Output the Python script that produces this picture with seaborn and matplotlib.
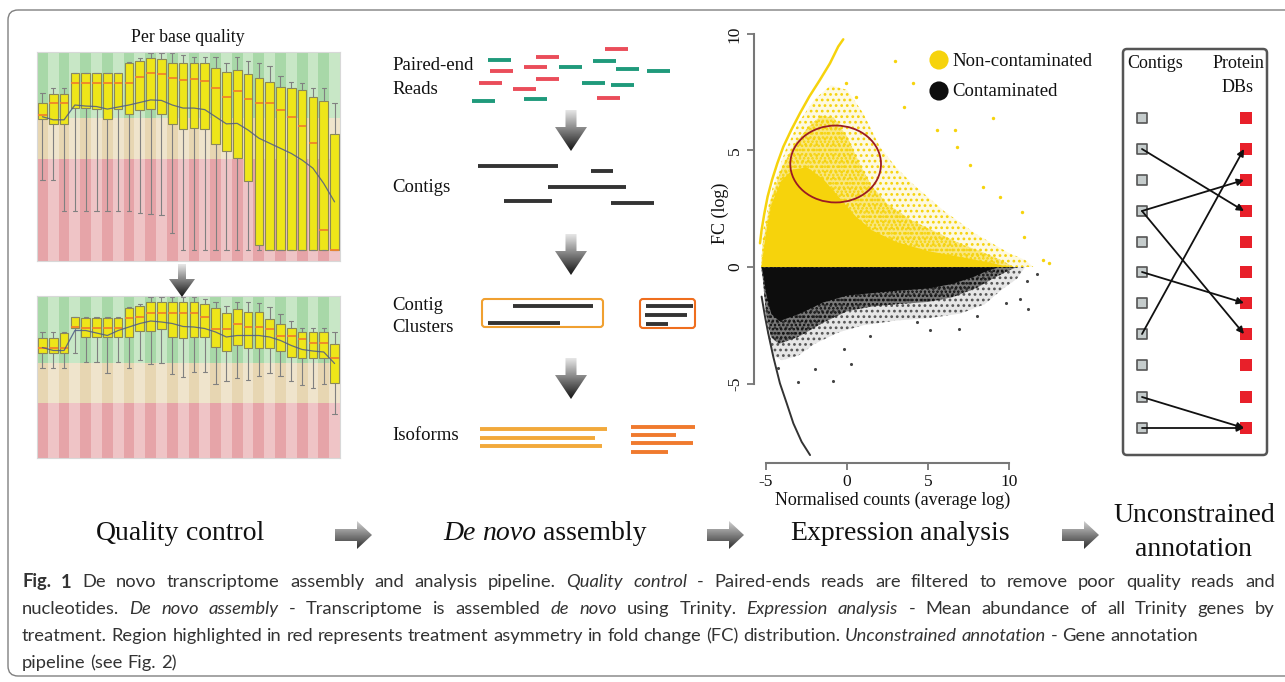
import numpy as np
import matplotlib
matplotlib.use("Agg")
import matplotlib.pyplot as plt
import seaborn as sns
from matplotlib.patches import Polygon, Rectangle, FancyBboxPatch, Ellipse
from matplotlib.colors import LinearSegmentedColormap, to_rgba

sns.set_style("white")
plt.rcParams["font.family"] = ["Liberation Serif", "DejaVu Serif"]
plt.rcParams["axes.unicode_minus"] = False
plt.rcParams["hatch.linewidth"] = 1.2

W, H = 1285, 682
SERIF = ["Liberation Serif", "DejaVu Serif"]
CAPFONT = ["Lato", "DejaVu Sans"]

# ---------------- per base quality (28 read positions) ----------------
q_pos = np.arange(1, 29)
top_whislo = [15.9, 15.9, 9.8, 9.8, 9.8, 9.8, 9.8, 9.8, 9.8, 9.4, 9.2, 9.0, 5.4, 2.1,
              2.1, 2.1, 2.1, 2.1, 2.1, 2.1, 2.1, 2.1, 2.1, 2.1, 2.1, 2.1, 2.1, 2.1]
top_q1 = [27.9, 26.9, 26.9, 30.0, 30.0, 29.8, 27.9, 29.8, 28.9, 29.7, 29.8, 28.9, 26.9, 25.8,
          26.0, 25.8, 23.0, 21.6, 20.3, 15.7, 3.1, 2.1, 2.1, 2.1, 2.1, 2.1, 2.1, 2.1]
top_med = [28.7, 31.0, 31.0, 34.9, 34.9, 34.9, 34.9, 34.9, 34.9, 36.1, 36.9, 36.7, 35.9, 35.6,
           35.7, 35.4, 33.9, 32.1, 33.3, 31.8, 31.0, 31.0, 29.7, 28.3, 26.4, 23.2, 6.0, 2.1]
top_q3 = [31.0, 32.8, 32.8, 36.9, 36.9, 36.9, 36.9, 36.9, 38.8, 39.2, 39.8, 39.6, 38.8, 38.8,
          38.8, 38.8, 37.9, 37.0, 37.5, 36.7, 35.9, 35.2, 34.2, 33.9, 33.5, 32.1, 31.3, 24.9]
top_whihi = [32.9, 33.9, 33.9, 36.9, 36.9, 36.9, 36.9, 36.9, 39.0, 39.8, 40.8, 40.8, 40.8, 40.5,
             40.0, 40.0, 40.0, 38.8, 40.0, 39.2, 38.8, 38.2, 36.3, 35.2, 34.9, 33.9, 33.9, 31.0]
top_mean = [28.3, 27.7, 27.7, 30.6, 30.4, 30.3, 29.8, 30.2, 30.6, 31.1, 31.6, 31.5, 30.6, 30.0,
            30.0, 29.7, 28.3, 26.9, 27.0, 25.7, 24.1, 23.1, 22.1, 21.1, 19.8, 18.2, 15.2, 11.6]

bot_whislo = [27.0, 27.0, 27.0, 30.1, 28.2, 28.2, 26.0, 28.2, 27.0, 28.7, 27.9, 28.0, 25.9, 25.2,
              26.3, 26.2, 23.9, 24.4, 25.1, 24.7, 25.5, 26.0, 25.5, 24.4, 23.7, 23.0, 23.9, 17.9]
bot_q1 = [30.1, 30.1, 30.1, 35.1, 33.2, 33.2, 33.2, 33.2, 33.2, 34.4, 34.4, 34.7, 33.2, 33.1,
          33.2, 33.2, 31.2, 30.5, 31.7, 31.1, 31.1, 31.1, 30.5, 29.3, 29.1, 29.1, 29.1, 24.1]
bot_med = [31.1, 31.1, 31.1, 35.3, 35.1, 35.1, 35.1, 35.1, 37.1, 37.3, 38.0, 38.0, 38.0, 38.0,
           38.0, 37.3, 34.9, 34.9, 35.7, 35.2, 35.2, 34.7, 33.5, 33.5, 32.9, 32.1, 32.1, 29.1]
bot_q3 = [33.0, 33.0, 34.1, 37.2, 37.1, 37.1, 37.1, 37.1, 39.1, 39.5, 40.2, 40.2, 40.2, 40.2,
          40.2, 39.9, 39.1, 38.0, 38.9, 38.2, 38.2, 36.9, 35.7, 35.1, 34.2, 34.2, 34.2, 31.9]
bot_whihi = [34.2, 34.2, 34.2, 37.2, 37.2, 37.2, 37.2, 37.2, 39.2, 39.7, 41.2, 41.2, 41.2, 41.2,
             41.2, 40.9, 40.2, 39.5, 40.2, 40.2, 40.0, 39.2, 37.9, 36.4, 35.1, 35.1, 35.1, 34.2]
bot_mean = [31.1, 30.5, 30.5, 34.5, 34.5, 34.0, 33.5, 34.5, 35.2, 35.9, 36.4, 36.2, 35.9, 35.3,
            35.2, 34.9, 34.2, 33.2, 33.5, 33.5, 33.5, 33.2, 32.5, 31.5, 30.7, 30.4, 30.2, 27.9]

# quality bands: (low, high, dark stripe, light stripe)
bands = [(0, 20, "#e6a4a8", "#efc4c6"),
         (20, 28, "#e7d6b2", "#efe4cc"),
         (28, 45, "#a8d8a8", "#c8e7c6")]

# ---------------- MA plot ----------------
yel_sparse_x = [-5.3, -5.2, -4.6, -3.8, -3.0, -2.0, -1.0, 0.0, 1.0, 2.0, 3.0, 4.0, 5.0, 6.0, 7.0, 8.0, 9.0, 10.0, 11.0, 11.5]
yel_sparse_y = [0.0, 1.5, 3.4, 5.0, 6.2, 7.2, 7.8, 7.6, 6.6, 5.2, 4.3, 3.6, 3.0, 2.4, 1.9, 1.4, 1.0, 0.6, 0.3, 0.0]
yel_mid_x = [-5.3, -5.2, -4.7, -4.0, -3.2, -2.4, -1.6, -0.8, 0.0, 0.8, 1.5, 2.5, 4.0, 5.5, 7.0, 8.5, 9.5, 10.3]
yel_mid_y = [0.0, 1.0, 2.9, 4.3, 5.3, 6.0, 6.5, 6.4, 5.6, 4.4, 3.5, 2.7, 2.0, 1.5, 1.0, 0.6, 0.3, 0.0]
yel_core_x = [-5.3, -5.2, -5.0, -4.7, -4.1, -3.4, -2.5, -1.5, -0.5, 0.5, 1.5, 3.0, 5.0, 7.0, 8.5, 9.5, 10.0]
yel_core_y = [0.0, 0.6, 1.6, 2.7, 3.7, 4.2, 4.3, 3.8, 3.0, 2.2, 1.6, 1.1, 0.7, 0.45, 0.25, 0.1, 0.0]

blk_sparse_x = [-5.2, -5.0, -4.6, -4.0, -3.0, -2.0, -0.5, 1.0, 3.0, 5.0, 7.0, 8.5, 9.5, 10.5, 11.0]
blk_sparse_y = [0.0, -2.5, -3.8, -4.0, -3.8, -3.3, -2.8, -2.5, -2.3, -2.2, -2.0, -1.6, -1.0, -0.5, 0.0]
blk_mid_x = [-5.3, -5.2, -5.0, -4.7, -4.2, -3.0, -1.5, 0.0, 1.5, 3.0, 5.0, 6.5, 8.0, 9.0, 10.0, 10.5]
blk_mid_y = [0.0, -0.5, -2.0, -3.0, -3.3, -3.0, -2.4, -1.9, -1.7, -1.6, -1.5, -1.3, -0.9, -0.5, -0.15, 0.0]
blk_core_x = [-5.3, -5.2, -5.0, -4.7, -4.2, -3.0, -1.5, 0.0, 1.5, 3.0, 5.0, 6.5, 7.8, 8.6, 9.3]
blk_core_y = [0.0, -0.3, -1.2, -2.0, -2.3, -2.0, -1.5, -1.2, -1.1, -1.0, -0.9, -0.7, -0.4, -0.15, 0.0]

yel_arc_x = [-5.37, -5.27, -5.10, -4.90, -4.63, -4.30, -3.93, -3.44, -2.90, -2.33, -1.67, -1.05, -0.54, -0.23]
yel_arc_y = [1.02, 1.59, 2.30, 3.02, 3.73, 4.45, 5.16, 5.88, 6.60, 7.31, 8.03, 8.74, 9.46, 9.77]
blk_arc_x = [-5.27, -5.06, -4.86, -4.55, -4.14, -3.72, -3.31, -2.80, -2.28]
blk_arc_y = [-1.27, -2.13, -2.85, -3.85, -4.99, -5.85, -6.71, -7.50, -8.07]

yel_out_x = [2.96, 9.04, 6.67, 7.59, 10.8, 12.5, 4.10, -0.06, 0.56, 3.49, 5.54, 6.77, 8.42, 9.44, 10.9, 12.1]
yel_out_y = [8.85, 6.41, 5.88, 4.38, 2.37, 0.16, 7.88, 7.88, 7.31, 6.88, 5.88, 5.16, 3.45, 3.02, 1.30, 0.30]
blk_out_x = [-3.0, -0.88, -1.98, 0.25, -4.24, 5.12, 6.93, 11.2, 10.68, 11.74, 11.1, 9.8, 8.0, 4.3, 1.42, -0.19]
blk_out_y = [-4.92, -4.88, -4.39, -4.16, -4.35, -2.70, -2.68, -1.82, -1.39, -0.30, -0.59, -1.53, -2.1, -2.35, -2.96, -3.53]

ma_ticks = [-5, 0, 5, 10]
legend_labels = ["Non-contaminated", "Contaminated"]

# ---------------- assembly schematic (pixel layout) ----------------
green_x0 = [488, 559, 593, 616, 647, 582, 611, 472, 524]
green_y = [60, 67, 61, 69, 71, 83, 85, 101, 99]
red_x0 = [605, 536, 524, 490, 479, 536, 513, 597]
red_y = [49, 57, 67, 71, 83, 79, 89, 98]
read_len = 23
contig_x0 = [478, 591, 548, 504, 611]
contig_x1 = [558, 613, 626, 552, 654]
contig_y = [166, 171, 187, 201, 203]
clus1_x0, clus1_x1, clus1_y = [513, 488], [593, 560], [306, 323]
clus2_x0, clus2_x1, clus2_y = [646, 645, 646], [693, 687, 668], [306, 315, 324]
iso1_x1, iso1_y = [607, 595, 602], [429, 438, 446]
iso2_x1, iso2_y = [695, 676, 693, 668], [427, 435, 443, 452]
step_labels = [("Paired-end", 66), ("Reads", 89), ("Contigs", 187),
               ("Contig", 305), ("Clusters", 327), ("Isoforms", 436)]

# ---------------- annotation schematic ----------------
row_y = [118, 149, 180, 211, 242, 272, 303, 334, 365, 397, 428]
hit_contig = [1, 3, 3, 5, 7, 9, 10]
hit_protein = [3, 2, 7, 6, 1, 10, 10]

caption = [
    [("Fig. 1", "b"), ("De novo transcriptome assembly and analysis pipeline.", "n"), ("Quality control", "i"),
     ("- Paired-ends reads are filtered to remove poor quality reads and", "n")],
    [("nucleotides.", "n"), ("De novo assembly", "i"), ("- Transcriptome is assembled", "n"), ("de novo", "i"),
     ("using Trinity.", "n"), ("Expression analysis", "i"), ("- Mean abundance of all Trinity genes by", "n")],
    [("treatment. Region highlighted in red represents treatment asymmetry in fold change (FC) distribution.", "n"),
     ("Unconstrained annotation", "i"), ("- Gene annotation", "n")],
    [("pipeline (see Fig. 2)", "n")],
]

fig = plt.figure(figsize=(W / 100, H / 100), dpi=100)
renderer = fig.canvas.get_renderer()


def px_axes(x0, y0, x1, y1):
    return fig.add_axes([x0 / W, 1 - y1 / H, (x1 - x0) / W, (y1 - y0) / H])


def quality_panel(ax, whislo, q1, med, q3, whishi, mean, ylo, yhi):
    for i in q_pos:
        for lo, hi, dark, light in bands:
            ax.add_patch(Rectangle((i - 0.5, lo), 1, hi - lo, facecolor=dark if i % 2 else light, lw=0, zorder=0))
    stats = [dict(whislo=a, q1=b, med=c, q3=d, whishi=e, fliers=[])
             for a, b, c, d, e in zip(whislo, q1, med, q3, whishi)]
    ax.bxp(stats, positions=q_pos, widths=0.8, patch_artist=True, showfliers=False, manage_ticks=False,
           boxprops=dict(facecolor="#eee619", edgecolor="#8c8a55", lw=0.8),
           medianprops=dict(color="#f0842a", lw=1.3),
           whiskerprops=dict(color="#808080", lw=0.8),
           capprops=dict(color="#808080", lw=0.8), zorder=2)
    sns.lineplot(x=q_pos, y=mean, ax=ax, color="#4d5a86", lw=0.9, alpha=0.85, zorder=5)
    ax.set_xlim(0.5, 28.5)
    ax.set_ylim(ylo, yhi)
    ax.set_xticks([])
    ax.set_yticks([])
    for s in ax.spines.values():
        s.set_color("#d8d8d8")
        s.set_linewidth(0.8)


quality_panel(px_axes(37, 52, 340, 261), top_whislo, top_q1, top_med, top_q3, top_whihi, top_mean, 0, 41)
quality_panel(px_axes(37, 296, 340, 458), bot_whislo, bot_q1, bot_med, bot_q3, bot_whihi, bot_mean, 9, 41.4)

# ---------------- MA plot ----------------
YEL = "#f6d30c"
BLK = "#0d0d0d"
ax = px_axes(754, 30, 1060, 463)
# sparse halo drawn as a dotted hatch to imitate scattered points
ax.fill_between(yel_sparse_x, 0, yel_sparse_y, facecolor=to_rgba(YEL, 0.12), edgecolor=YEL, hatch="...", lw=0)
ax.fill_between(yel_mid_x, 0, yel_mid_y, facecolor=to_rgba(YEL, 0.45), edgecolor=YEL, hatch="....", lw=0)
ax.fill_between(yel_core_x, 0, yel_core_y, color=YEL, lw=0)
ax.fill_between(blk_sparse_x, 0, blk_sparse_y, facecolor=to_rgba(BLK, 0.1), edgecolor="#555555", hatch="...", lw=0)
ax.fill_between(blk_mid_x, 0, blk_mid_y, facecolor=to_rgba(BLK, 0.5), edgecolor=BLK, hatch="....", lw=0)
ax.fill_between(blk_core_x, 0, blk_core_y, color=BLK, lw=0)
sns.lineplot(x=yel_arc_x, y=yel_arc_y, ax=ax, color=YEL, lw=1.8, sort=False)
sns.lineplot(x=blk_arc_x, y=blk_arc_y, ax=ax, color="#333333", lw=1.4, sort=False)
sns.scatterplot(x=yel_out_x, y=yel_out_y, ax=ax, color=YEL, s=6, linewidth=0)
sns.scatterplot(x=blk_out_x, y=blk_out_y, ax=ax, color="#444444", s=5, linewidth=0)
ax.add_patch(Ellipse((-0.70, 4.42), 5.6, 3.3, facecolor="none", edgecolor="#9b1b23", lw=1.3, zorder=6))
ax.set_xlim(-5.74, 13.15)
ax.set_ylim(-8.41, 10.17)
sns.despine(ax=ax)
for side in ["left", "bottom"]:
    ax.spines[side].set_bounds(-5, 10)
    ax.spines[side].set_color("#777777")
    ax.spines[side].set_linewidth(1.5)
ax.set_xticks(ma_ticks)
ax.set_yticks(ma_ticks)
ax.tick_params(bottom=True, left=True, direction="out", length=5, width=1.3, color="#777777",
               labelsize=12.5, labelcolor="#111111", pad=3)
plt.setp(ax.get_yticklabels(), rotation=90, va="center")
ax.patch.set_alpha(0)

# ---------------- overlay in pixel coordinates ----------------
ov = fig.add_axes([0, 0, 1, 1])
ov.set_xlim(0, W)
ov.set_ylim(H, 0)
ov.axis("off")


def grad_poly(pts, c0, c1):
    pts = np.array(pts, dtype=float)
    poly = Polygon(pts, closed=True, facecolor="none", edgecolor="none")
    ov.add_patch(poly)
    cmap = LinearSegmentedColormap.from_list("g", [c0, c1])
    grad = np.linspace(0, 1, 64).reshape(-1, 1)
    im = ov.imshow(grad, extent=[pts[:, 0].min(), pts[:, 0].max(), pts[:, 1].max(), pts[:, 1].min()],
                   cmap=cmap, aspect="auto", origin="upper", interpolation="bilinear", zorder=3)
    im.set_clip_path(poly)


def down_arrow(cx, y0, ys, yt, sw, hw, c0="#e6e6e6", c1="#141414"):
    grad_poly([(cx - sw, y0), (cx + sw, y0), (cx + sw, ys), (cx + hw, ys), (cx, yt), (cx - hw, ys), (cx - sw, ys)], c0, c1)


def right_arrow(x0, xs, xt, cy, sh, hh):
    grad_poly([(x0, cy - sh), (xs, cy - sh), (xs, cy - hh), (xt, cy), (xs, cy + hh), (xs, cy + sh), (x0, cy + sh)],
              "#d0d0d0", "#2e2e2e")


def text_w(s, **kw):
    t = ov.text(0, 0, s, **kw)
    w = t.get_window_extent(renderer).width
    t.remove()
    return w


def style_kw(st):
    return {"n": {}, "i": {"style": "italic"}, "b": {"weight": "bold"}}[st]


def measure_runs(runs, size, family):
    words = [(w, st) for s, st in runs for w in s.split()]
    ws = [text_w(w, fontsize=size, family=family, **style_kw(st)) for w, st in words]
    space = text_w("a a", fontsize=size, family=family) - text_w("aa", fontsize=size, family=family)
    return words, ws, space


def natural_width(runs, size, family):
    _, ws, sp = measure_runs(runs, size, family)
    return sum(ws) + sp * (len(ws) - 1)


def place_runs(runs, x, y, ha, size, family, color="#111111", justify=None):
    words, ws, space = measure_runs(runs, size, family)
    gap = space if justify is None or len(ws) < 2 else (justify - sum(ws)) / (len(ws) - 1)
    total = sum(ws) + gap * (len(ws) - 1)
    cx = x - total / 2 if ha == "center" else x
    for (w, st), wd in zip(words, ws):
        ov.text(cx, y, w, fontsize=size, family=family, color=color, va="center", ha="left", **style_kw(st))
        cx += wd + gap


# outer frame
ov.add_patch(FancyBboxPatch((8, 10), 1300, 666, boxstyle="round,pad=0,rounding_size=10",
                            facecolor="none", edgecolor="#808080", lw=1.0))

# quality control panel
ov.text(188, 37, "Per base quality", fontsize=12.8, family=SERIF, ha="center", va="center", color="#111111")
down_arrow(182, 264, 279, 297, 4, 13)

# assembly panel
for s, y in step_labels:
    ov.text(392, y, s, fontsize=13.5, family=SERIF, ha="left", va="center", color="#111111")
for x0, y in zip(green_x0, green_y):
    ov.plot([x0, x0 + read_len], [y, y], color="#1f9a7b", lw=2.8, solid_capstyle="butt")
for x0, y in zip(red_x0, red_y):
    ov.plot([x0, x0 + read_len], [y, y], color="#ea4d5a", lw=2.8, solid_capstyle="butt")
for x0, x1, y in zip(contig_x0, contig_x1, contig_y):
    ov.plot([x0, x1], [y, y], color="#333333", lw=2.8, solid_capstyle="butt")
for x0, x1, y in zip(clus1_x0 + clus2_x0, clus1_x1 + clus2_x1, clus1_y + clus2_y):
    ov.plot([x0, x1], [y, y], color="#333333", lw=2.8, solid_capstyle="butt")
ov.add_patch(FancyBboxPatch((482, 299), 121, 28, boxstyle="round,pad=0,rounding_size=3",
                            facecolor="none", edgecolor="#f0a030", lw=1.5))
ov.add_patch(FancyBboxPatch((640, 299), 55, 29, boxstyle="round,pad=0,rounding_size=3",
                            facecolor="none", edgecolor="#ef6e1e", lw=1.5))
for x1, y in zip(iso1_x1, iso1_y):
    ov.plot([480, x1], [y, y], color="#f2a93b", lw=2.8, solid_capstyle="butt")
for x1, y in zip(iso2_x1, iso2_y):
    ov.plot([631, x1], [y, y], color="#f07a2e", lw=2.8, solid_capstyle="butt")
for y0 in [110, 234, 358]:
    down_arrow(571, y0, y0 + 17, y0 + 41, 5.5, 16)

# MA labels and legend
ov.text(720, 213, "FC (log)", fontsize=13, family=SERIF, rotation=90, ha="center", va="center", color="#111111")
ov.text(893, 500, "Normalised counts (average log)", fontsize=13, family=SERIF, ha="center", va="center",
        color="#111111")
sns.scatterplot(x=[939, 939], y=[60, 91], hue=legend_labels, palette=[YEL, BLK], s=190, linewidth=0,
                ax=ov, legend=False, zorder=6)
for lab, y in zip(legend_labels, [61, 91]):
    ov.text(952, y, lab, fontsize=13.5, family=SERIF, ha="left", va="center", color="#111111")

# annotation panel
ov.add_patch(FancyBboxPatch((1123, 49), 144, 406, boxstyle="round,pad=0,rounding_size=4",
                            facecolor="none", edgecolor="#555555", lw=1.8))
ov.text(1155, 63, "Contigs", fontsize=13, family=SERIF, ha="center", va="center", color="#111111")
ov.text(1238, 63, "Protein", fontsize=13, family=SERIF, ha="center", va="center", color="#111111")
ov.text(1238, 87, "DBs", fontsize=13, family=SERIF, ha="center", va="center", color="#111111")
sns.scatterplot(x=[1142] * len(row_y), y=row_y, marker="s", s=55, color="#c5cccc", edgecolor="#555555",
                linewidth=1.2, ax=ov, zorder=4)
sns.scatterplot(x=[1246] * len(row_y), y=row_y, marker="s", s=65, color="#e8202a", linewidth=0, ax=ov, zorder=4)
for c, p in zip(hit_contig, hit_protein):
    ov.annotate("", xy=(1244, row_y[p]), xytext=(1142, row_y[c]),
                arrowprops=dict(arrowstyle="-|>", lw=1.3, color="#111111", mutation_scale=10,
                                shrinkA=0, shrinkB=0), zorder=5)

# pipeline step titles
TS = 20
place_runs([("Quality control", "n")], 180, 533, "center", TS, SERIF)
place_runs([("De novo", "i"), ("assembly", "n")], 545, 533, "center", TS, SERIF)
place_runs([("Expression analysis", "n")], 900, 533, "center", TS, SERIF)
place_runs([("Unconstrained", "n")], 1194, 516, "center", TS, SERIF)
place_runs([("annotation", "n")], 1194, 549, "center", TS, SERIF)
for x0 in [335, 707, 1062]:
    right_arrow(x0, x0 + 22, x0 + 37, 535, 6, 14)

# caption: largest size for which line 1 fills the text width and line 3 still fits
size_l1 = 10 * 1253 / natural_width(caption[0], 10, CAPFONT)
size_l3 = 10 * 1175 / natural_width(caption[2], 10, CAPFONT)
cap_size = min(size_l1, size_l3)
for i, (line, y) in enumerate(zip(caption, [582, 609, 636, 663])):
    place_runs(line, 22, y, "left", cap_size, CAPFONT, color="#333333", justify=1253 if i < 2 else None)

ov.set_xlim(0, W)
ov.set_ylim(H, 0)
fig.savefig("out.png", dpi=100)
